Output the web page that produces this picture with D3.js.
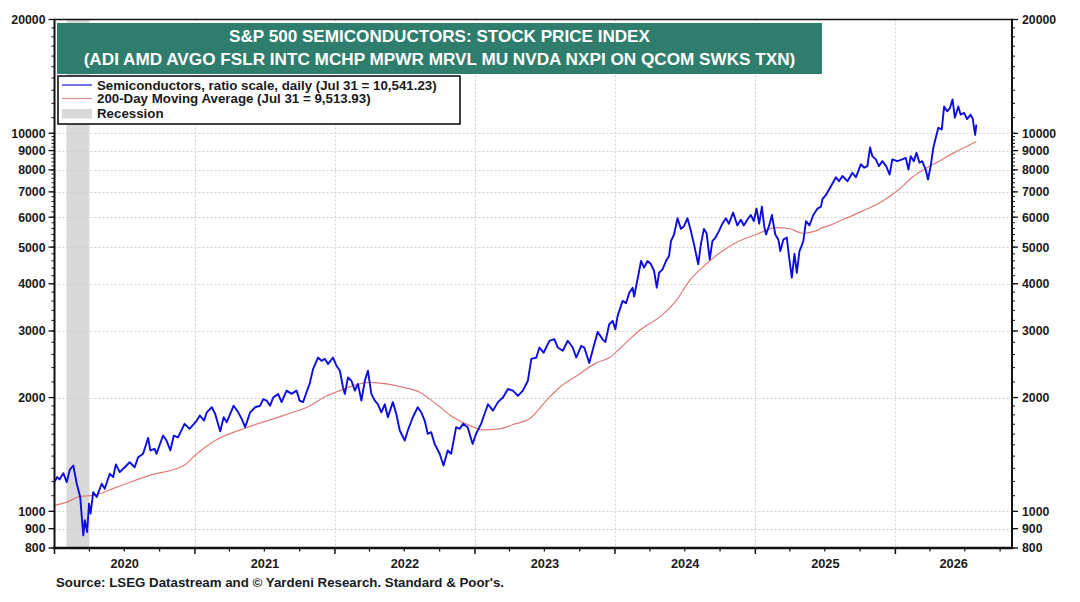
<!DOCTYPE html>
<html><head><meta charset="utf-8">
<script src="https://cdn.jsdelivr.net/npm/d3@7"></script>
<style>
html,body{margin:0;padding:0;background:#fff;}
svg{display:block;font-family:"Liberation Sans",Arial,Helvetica,sans-serif;}
</style></head><body>
<svg id="chart" width="1080" height="602"></svg>
<script>
// ---------------- DATA ----------------
const titleLines = [
  "S&P 500 SEMICONDUCTORS: STOCK PRICE INDEX",
  "(ADI AMD AVGO FSLR INTC MCHP MPWR MRVL MU NVDA NXPI ON QCOM SWKS TXN)"
];
const legendLabels = [
  "Semiconductors, ratio scale, daily (Jul 31 = 10,541.23)",
  "200-Day Moving Average (Jul 31 = 9,513.93)",
  "Recession"
];
const sourceText = "Source: LSEG Datastream and \u00A9 Yardeni Research. Standard & Poor's.";
const yTickValues = [800, 900, 1000, 2000, 3000, 4000, 5000, 6000, 7000, 8000, 9000, 10000, 20000];
const yGridValues = [900, 1000, 2000, 3000, 4000, 5000, 6000, 7000, 8000, 9000, 10000];
const yearLabels = ["2020", "2021", "2022", "2023", "2024", "2025", "2026"];
const xDomain = ["2020-01-01", "2026-11-01"];
const recession = ["2020-02-01", "2020-04-01"];

const priceSeries = [
["2020-01-02",1200],["2020-01-08",1232],["2020-01-14",1215],["2020-01-24",1262],["2020-02-02",1195],["2020-02-10",1290],
["2020-02-19",1322],["2020-02-28",1183],["2020-03-08",1091],["2020-03-16",864],["2020-03-20",947],["2020-03-26",882],
["2020-03-31",1048],["2020-04-04",986],["2020-04-11",1124],["2020-04-20",1091],["2020-05-03",1183],["2020-05-11",1148],
["2020-05-24",1257],["2020-06-02",1232],["2020-06-09",1331],["2020-06-19",1270],["2020-07-02",1308],["2020-07-15",1349],
["2020-07-28",1308],["2020-08-06",1390],["2020-08-19",1420],["2020-09-01",1564],["2020-09-07",1449],["2020-09-18",1463],
["2020-09-23",1420],["2020-10-10",1587],["2020-10-19",1539],["2020-10-29",1449],["2020-11-07",1587],["2020-11-18",1570],
["2020-12-05",1704],["2020-12-18",1653],
["2021-01-06",1739],["2021-01-14",1792],["2021-01-25",1739],["2021-02-01",1828],["2021-02-14",1885],["2021-02-23",1810],
["2021-03-01",1721],["2021-03-08",1629],["2021-03-17",1774],["2021-03-25",1721],["2021-04-12",1903],["2021-04-24",1828],
["2021-05-03",1757],["2021-05-12",1670],["2021-05-25",1828],["2021-06-07",1885],["2021-06-20",1903],["2021-06-28",1980],
["2021-07-07",1963],["2021-07-16",1903],["2021-07-24",2000],["2021-08-06",2045],["2021-08-15",1945],["2021-08-28",2086],
["2021-09-10",2045],["2021-09-23",2086],["2021-10-01",1963],["2021-10-10",1945],["2021-10-19",2066],["2021-10-27",2173],
["2021-11-05",2378],["2021-11-18",2552],["2021-11-27",2502],["2021-12-06",2530],["2021-12-14",2452],["2021-12-27",2552],
["2022-01-05",2428],["2022-01-14",2355],["2022-01-22",2129],["2022-01-27",2045],["2022-02-04",2260],["2022-02-13",2216],
["2022-02-22",2086],["2022-03-02",2173],["2022-03-11",1963],["2022-03-20",2216],["2022-03-28",2355],["2022-04-06",2045],
["2022-04-15",1963],["2022-04-23",1920],["2022-05-02",1828],["2022-05-11",1920],["2022-05-19",1774],["2022-06-01",1945],
["2022-06-10",1810],["2022-06-19",1636],["2022-07-02",1539],["2022-07-10",1636],["2022-07-23",1774],["2022-08-05",1885],
["2022-08-14",1828],["2022-08-23",1739],["2022-08-31",1604],["2022-09-09",1620],["2022-09-18",1508],["2022-10-01",1420],
["2022-10-11",1322],["2022-10-22",1449],["2022-10-31",1420],["2022-11-13",1670],["2022-11-22",1653],["2022-12-01",1704],
["2022-12-13",1670],["2022-12-26",1508],
["2023-01-04",1604],["2023-01-17",1704],["2023-01-26",1810],["2023-02-04",1920],["2023-02-17",1847],["2023-03-02",1945],
["2023-03-15",2000],["2023-03-28",2108],["2023-04-10",2086],["2023-04-23",2020],["2023-05-06",2086],["2023-05-19",2216],
["2023-05-28",2530],["2023-06-10",2552],["2023-06-18",2712],["2023-06-29",2628],["2023-07-14",2826],["2023-07-27",2855],
["2023-08-05",2712],["2023-08-18",2659],["2023-08-31",2826],["2023-09-13",2712],["2023-09-22",2552],["2023-10-05",2739],
["2023-10-13",2712],["2023-10-26",2470],["2023-11-04",2670],["2023-11-17",2981],["2023-11-30",2850],["2023-12-07",2804],
["2023-12-17",3125],["2023-12-26",3191],
["2024-01-02",3030],["2024-01-08",3290],["2024-01-21",3603],["2024-01-30",3554],["2024-02-07",3783],["2024-02-16",3905],
["2024-02-20",3701],["2024-02-29",4118],["2024-03-09",4594],["2024-03-17",4412],["2024-03-26",4594],["2024-04-04",4503],
["2024-04-12",4323],["2024-04-19",3905],["2024-04-25",4276],["2024-05-04",4366],["2024-05-13",4594],["2024-05-21",4737],
["2024-05-26",5188],["2024-06-03",5400],["2024-06-12",5961],["2024-06-21",5587],["2024-06-29",5680],["2024-07-08",5961],
["2024-07-17",5512],["2024-07-25",5090],["2024-08-05",4503],["2024-08-12",5090],["2024-08-20",5587],["2024-08-27",5440],
["2024-09-04",4640],["2024-09-11",5188],["2024-09-19",5300],["2024-09-28",5512],["2024-10-07",5766],["2024-10-16",5961],
["2024-10-24",5766],["2024-11-04",6170],["2024-11-15",5706],["2024-11-24",5905],["2024-12-02",5706],["2024-12-11",5905],
["2024-12-20",6080],["2024-12-28",5858],
["2025-01-04",6323],["2025-01-11",5766],["2025-01-18",6400],["2025-01-24",5680],["2025-01-29",5400],["2025-02-06",5706],
["2025-02-13",6080],["2025-02-22",5400],["2025-03-02",5232],["2025-03-07",4882],["2025-03-15",5232],["2025-03-24",5300],
["2025-03-29",4785],["2025-04-06",4150],["2025-04-13",4800],["2025-04-19",4276],["2025-04-26",4882],["2025-04-30",4990],
["2025-05-06",5188],["2025-05-13",5858],["2025-05-22",5706],["2025-06-01",6080],["2025-06-12",6323],["2025-06-21",6400],
["2025-06-25",6700],["2025-07-04",6869],["2025-07-17",7240],["2025-07-30",7650],["2025-08-07",7470],["2025-08-16",7710],
["2025-08-29",7470],["2025-09-11",7860],["2025-09-20",7650],["2025-10-03",8280],["2025-10-12",8110],["2025-10-20",8190],
["2025-10-27",9170],["2025-11-02",8700],["2025-11-11",8530],["2025-11-19",8190],["2025-11-28",8440],["2025-12-08",8190],
["2025-12-17",7780],["2025-12-24",8530],
["2026-01-06",8440],["2026-01-19",8530],["2026-01-28",8610],["2026-02-04",8020],["2026-02-10",8700],["2026-02-18",8440],
["2026-02-25",8880],["2026-03-05",8360],["2026-03-12",8440],["2026-03-21",8020],["2026-03-27",7550],["2026-04-03",8190],
["2026-04-10",9170],["2026-04-16",9700],["2026-04-23",10340],["2026-05-02",10240],["2026-05-08",11770],["2026-05-16",11430],
["2026-05-23",11650],["2026-05-30",12290],["2026-06-05",11000],["2026-06-14",11770],["2026-06-20",11210],["2026-06-29",11320],
["2026-07-07",10900],["2026-07-16",11210],["2026-07-22",10900],["2026-07-25",10340],["2026-07-28",9900],["2026-07-31",10541]
];

const maSeries = [
["2020-01-02",1037],["2020-02-02",1058],["2020-03-08",1095],["2020-04-11",1102],["2020-06-11",1159],["2020-09-05",1245],
["2020-12-03",1322],["2021-01-01",1405],["2021-02-23",1539],["2021-05-13",1662],["2021-08-19",1792],["2021-10-28",1903],
["2021-12-10",2020],["2022-01-08",2075],["2022-02-17",2151],["2022-04-02",2195],["2022-05-16",2173],["2022-06-28",2129],
["2022-08-10",2066],["2022-09-23",1920],["2022-11-05",1774],["2022-12-19",1686],["2023-01-22",1643],["2023-03-06",1653],
["2023-04-10",1697],["2023-05-23",1757],["2023-07-06",1963],["2023-08-10",2129],["2023-10-01",2310],["2023-11-13",2470],
["2023-12-18",2552],["2024-01-12",2685],["2024-03-04",3003],["2024-05-04",3315],["2024-06-08",3603],["2024-07-13",4069],
["2024-08-25",4503],["2024-10-07",4882],["2024-11-20",5188],["2025-01-03",5400],["2025-02-24",5630],["2025-03-30",5600],
["2025-05-04",5440],["2025-06-08",5518],["2025-06-25",5630],["2025-07-13",5706],["2025-08-16",5905],["2025-10-07",6225],
["2025-11-28",6614],["2026-01-11",7110],["2026-02-14",7650],["2026-03-21",8070],["2026-04-25",8440],["2026-06-07",8930],
["2026-07-12",9300],["2026-07-31",9514]
];

// ---------------- CHART ----------------
const svg = d3.select("#chart");
const m = {left: 54.5, right: 1012, top: 19.5, bottom: 548};
const parse = d3.timeParse("%Y-%m-%d");
const x = d3.scaleTime().domain(xDomain.map(parse)).range([m.left, m.right]);
const y = d3.scaleLog().domain([800, 20000]).range([m.bottom, m.top]);
const axisColor = "#111", labelColor = "#1a1a1a";

// recession shading
svg.append("rect")
  .attr("x", x(parse(recession[0]))).attr("y", m.top)
  .attr("width", x(parse(recession[1])) - x(parse(recession[0])))
  .attr("height", m.bottom - m.top)
  .attr("fill", "#d9d9d9");

// grid
const grid = svg.append("g").attr("stroke", "#cfcfcf").attr("stroke-width", 1).attr("stroke-dasharray", "2,2");
grid.selectAll("line.h").data(yGridValues).join("line").attr("class", "h")
  .attr("x1", m.left).attr("x2", m.right)
  .attr("y1", d => Math.round(y(d)) + 0.5).attr("y2", d => Math.round(y(d)) + 0.5);
const yearStarts = d3.timeYear.range(d3.timeYear.offset(x.domain()[0], 1), x.domain()[1]);
grid.selectAll("line.v").data(yearStarts).join("line").attr("class", "v")
  .attr("x1", d => Math.round(x(d)) + 0.5).attr("x2", d => Math.round(x(d)) + 0.5)
  .attr("y1", m.top).attr("y2", m.bottom);

// lines
svg.append("clipPath").attr("id", "plotclip").append("rect")
  .attr("x", m.left).attr("y", m.top).attr("width", m.right - m.left).attr("height", m.bottom - m.top);
const lineMA = d3.line().x(d => x(parse(d[0]))).y(d => y(d[1])).curve(d3.curveMonotoneX);
const linePx = d3.line().x(d => x(parse(d[0]))).y(d => y(d[1]));
svg.append("path").datum(maSeries).attr("clip-path", "url(#plotclip)")
  .attr("fill", "none").attr("stroke", "#e07a7a").attr("stroke-width", 1.2).attr("d", lineMA);
svg.append("path").datum(priceSeries).attr("clip-path", "url(#plotclip)")
  .attr("fill", "none").attr("stroke", "#0d0de0").attr("stroke-width", 1.9)
  .attr("stroke-linejoin", "round").attr("d", linePx);

// y minor ticks
const minorY = [];
for (let v = 800; v < 1000; v += 100) minorY.push(v);
for (let v = 1000; v < 2000; v += 100) minorY.push(v);
for (let v = 2000; v < 10000; v += 200) minorY.push(v);
for (let v = 10000; v <= 20000; v += 1000) minorY.push(v);
const axG = svg.append("g").attr("stroke", axisColor);
axG.selectAll("line.lm").data(minorY).join("line")
  .attr("x1", m.left - 3).attr("x2", m.left).attr("y1", d => y(d)).attr("y2", d => y(d)).attr("stroke-width", 1);
axG.selectAll("line.rm").data(minorY).join("line")
  .attr("x1", m.right).attr("x2", m.right + 3).attr("y1", d => y(d)).attr("y2", d => y(d)).attr("stroke-width", 1);
axG.selectAll("line.lM").data(yTickValues).join("line")
  .attr("x1", m.left - 6).attr("x2", m.left).attr("y1", d => y(d)).attr("y2", d => y(d)).attr("stroke-width", 1.3);
axG.selectAll("line.rM").data(yTickValues).join("line")
  .attr("x1", m.right).attr("x2", m.right + 6).attr("y1", d => y(d)).attr("y2", d => y(d)).attr("stroke-width", 1.3);

// y labels
const lblStyle = s => s.attr("font-size", 12.3).attr("font-weight", "bold").attr("fill", labelColor);
svg.append("g").selectAll("text").data(yTickValues).join("text")
  .attr("x", m.left - 9).attr("y", d => y(d)).attr("dy", "0.36em").attr("text-anchor", "end")
  .text(d => d).call(lblStyle);
svg.append("g").selectAll("text").data(yTickValues).join("text")
  .attr("x", m.right + 10).attr("y", d => y(d)).attr("dy", "0.36em").attr("text-anchor", "start")
  .text(d => d).call(lblStyle);

// x ticks
const quarters = d3.timeMonth.every(3).range(x.domain()[0], x.domain()[1]);
axG.selectAll("line.xq").data(quarters).join("line")
  .attr("x1", d => x(d)).attr("x2", d => x(d))
  .attr("y1", m.bottom).attr("y2", d => d.getMonth() === 0 ? m.bottom + 6 : m.bottom + 3.5)
  .attr("stroke-width", d => d.getMonth() === 0 ? 1.5 : 1.2);

// x labels centered in visible part of each year
svg.append("g").selectAll("text").data(yearLabels).join("text")
  .attr("x", d => {
    const a = Math.max(x(new Date(+d, 0, 1)), m.left);
    const b = Math.min(x(new Date(+d + 1, 0, 1)), m.right);
    return (a + b) / 2;
  })
  .attr("y", 567.5).attr("text-anchor", "middle").text(d => d)
  .call(s => s.attr("font-size", 12.8).attr("font-weight", "bold").attr("fill", labelColor));

// frame
svg.append("line").attr("x1", m.left).attr("x2", m.right).attr("y1", m.top).attr("y2", m.top)
  .attr("stroke", axisColor).attr("stroke-width", 1.5);
svg.append("line").attr("x1", m.left).attr("x2", m.left).attr("y1", m.top - 0.75).attr("y2", m.bottom + 1)
  .attr("stroke", axisColor).attr("stroke-width", 2);
svg.append("line").attr("x1", m.right).attr("x2", m.right).attr("y1", m.top - 0.75).attr("y2", m.bottom + 1)
  .attr("stroke", axisColor).attr("stroke-width", 2);
svg.append("line").attr("x1", m.left - 1).attr("x2", m.right + 1).attr("y1", m.bottom).attr("y2", m.bottom)
  .attr("stroke", axisColor).attr("stroke-width", 2.5);

// helper to fit a text to a width
function fit(sel, target) {
  const w = sel.node().getComputedTextLength();
  const fs = parseFloat(sel.attr("font-size"));
  sel.attr("font-size", (fs * target / w).toFixed(2));
}

// title box
svg.append("rect").attr("x", 57).attr("y", 23).attr("width", 765).attr("height", 51).attr("fill", "#2e7d6d");
const t1 = svg.append("text").attr("x", 439.5).attr("y", 41.5).attr("text-anchor", "middle")
  .attr("fill", "#fff").attr("font-weight", "bold").attr("font-size", 16).text(titleLines[0]);
fit(t1, 421);
const t2 = svg.append("text").attr("x", 439.5).attr("y", 64.5).attr("text-anchor", "middle")
  .attr("fill", "#fff").attr("font-weight", "bold").attr("font-size", 16).text(titleLines[1]);
fit(t2, 712);

// legend
svg.append("rect").attr("x", 58).attr("y", 76).attr("width", 402).attr("height", 48)
  .attr("fill", "#fff").attr("stroke", "#111").attr("stroke-width", 1.6);
svg.append("line").attr("x1", 62).attr("x2", 92).attr("y1", 85).attr("y2", 85).attr("stroke", "#2a2ae0").attr("stroke-width", 1.3);
svg.append("line").attr("x1", 62).attr("x2", 92).attr("y1", 98.5).attr("y2", 98.5).attr("stroke", "#e08a8a").attr("stroke-width", 1.2);
svg.append("rect").attr("x", 62).attr("y", 109).attr("width", 30).attr("height", 9.5).attr("fill", "#d9d9d9");
const legY = [89.5, 103, 117.5];
const legTexts = legendLabels.map((t, i) => svg.append("text").attr("x", 97).attr("y", legY[i])
  .attr("font-size", 12.5).attr("font-weight", "bold").attr("fill", "#1a1a1a").text(t));
fit(legTexts[0], 340);
legTexts[1].attr("font-size", legTexts[0].attr("font-size"));
legTexts[2].attr("font-size", legTexts[0].attr("font-size"));

// source
const src = svg.append("text").attr("x", 56).attr("y", 587).attr("font-size", 12.5).attr("font-weight", "bold")
  .attr("fill", "#1a1a1a").text(sourceText);
fit(src, 448);
</script>
</body></html>
